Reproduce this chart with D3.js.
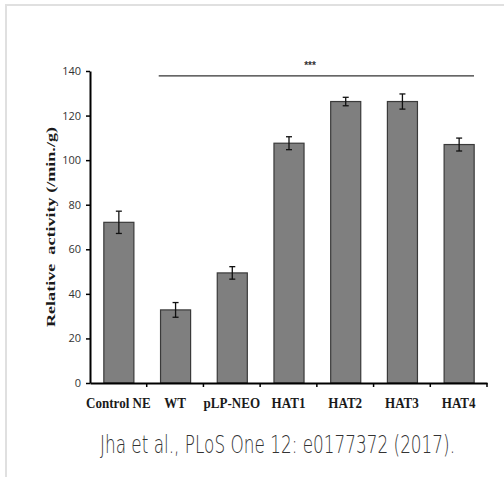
<!DOCTYPE html>
<html>
<head>
<meta charset="utf-8">
<script src="https://cdn.jsdelivr.net/npm/d3@7"></script>
<style>
  html, body { margin: 0; padding: 0; background: #fff; }
  svg { display: block; }
</style>
</head>
<body>
<div id="chart"></div>
<script>
// values
const categories = ["Control NE", "WT", "pLP-NEO", "HAT1", "HAT2", "HAT3", "HAT4"];
const activity = [72.1, 32.8, 49.4, 107.6, 126.3, 126.3, 107.0];
const errors = [5.0, 3.3, 2.8, 2.9, 1.9, 3.4, 2.9];
const yTicks = [0, 20, 40, 60, 80, 100, 120, 140];
const sigFrom = "WT", sigTo = "HAT4", sigLabel = "***";

const width = 504, height = 477;

const svg = d3.select("#chart").append("svg")
    .attr("width", width)
    .attr("height", height);

// light frame round the panel
svg.append("path")
    .attr("d", "M6,477 V5 H504")
    .attr("fill", "none")
    .attr("stroke", "#e0e0e0")
    .attr("stroke-width", 2);

const x = d3.scaleBand()
    .domain(categories)
    .range([90, 487]);

const y = d3.scaleLinear()
    .domain([0, 140])
    .range([383, 71]);

const rows = categories.map((c, i) => ({name: c, value: activity[i], err: errors[i]}));
const barW = x.bandwidth() * 0.53;

// bars
svg.append("g")
  .selectAll("rect")
  .data(rows)
  .join("rect")
    .attr("x", d => x(d.name) + x.bandwidth() / 2 - barW / 2 + 0.5)
    .attr("y", d => y(d.value))
    .attr("width", barW)
    .attr("height", d => y(0) - y(d.value))
    .attr("fill", "#7f7f7f")
    .attr("stroke", "#3a3a3a")
    .attr("stroke-width", 1.2);

// error bars
const eb = svg.append("g")
    .attr("stroke", "#111")
    .attr("stroke-width", 1.3)
  .selectAll("g")
  .data(rows)
  .join("g")
    .attr("transform", d => `translate(${x(d.name) + x.bandwidth() / 2 + 0.5},0)`);

eb.append("line")
    .attr("y1", d => y(d.value + d.err))
    .attr("y2", d => y(d.value - d.err));
eb.append("line")
    .attr("x1", -3).attr("x2", 3)
    .attr("y1", d => y(d.value + d.err))
    .attr("y2", d => y(d.value + d.err));
eb.append("line")
    .attr("x1", -3).attr("x2", 3)
    .attr("y1", d => y(d.value - d.err))
    .attr("y2", d => y(d.value - d.err));

// y axis
const yAxis = svg.append("g")
    .attr("transform", "translate(90,0)")
    .call(d3.axisLeft(y).tickValues(yTicks).tickSize(4).tickPadding(5).tickSizeOuter(0));
yAxis.select(".domain").attr("stroke", "#000").attr("stroke-width", 2);
yAxis.selectAll(".tick line").attr("stroke", "#000").attr("stroke-width", 1.5);
yAxis.selectAll(".tick text")
    .attr("font-family", "'Open Sans', 'Noto Sans', sans-serif")
    .attr("font-size", 11)
    .attr("fill", "#333");

// x axis: labels centred in bands, tick marks on band edges
const xAxis = svg.append("g")
    .attr("transform", `translate(0,${y(0)})`)
    .call(d3.axisBottom(x).tickSize(0).tickPadding(14).tickSizeOuter(0));
xAxis.select(".domain").attr("stroke", "#000").attr("stroke-width", 2);
xAxis.selectAll(".tick text")
    .attr("font-family", "'Liberation Serif', 'Times New Roman', serif")
    .attr("font-weight", "bold")
    .attr("font-size", 15)
    .attr("transform", "scale(0.87,1)")
    .attr("fill", "#1a1a1a");

const edges = categories.slice(1).map(c => x(c)).concat([x.range()[1]]);
xAxis.append("g")
  .selectAll("line")
  .data(edges)
  .join("line")
    .attr("x1", d => d).attr("x2", d => d)
    .attr("y1", 0).attr("y2", 4)
    .attr("stroke", "#000")
    .attr("stroke-width", 1.5);

// y label
svg.append("text")
    .attr("transform", `translate(55,${(y(0) + y(140)) / 2}) rotate(-90)`)
    .attr("text-anchor", "middle")
    .attr("font-family", "'Liberation Serif', 'Times New Roman', serif")
    .attr("font-weight", "bold")
    .attr("font-size", 12.5)
    .attr("fill", "#1a1a1a")
    .attr("textLength", 200)
    .attr("lengthAdjust", "spacingAndGlyphs")
    .style("white-space", "pre")
    .text("Relative  activity (/min./g)");

// significance bracket
const sx1 = x(sigFrom) + 12, sx2 = x(sigTo) + x.bandwidth() - 13;
svg.append("line")
    .attr("x1", sx1).attr("x2", sx2)
    .attr("y1", y(137.8)).attr("y2", y(137.8))
    .attr("stroke", "#333")
    .attr("stroke-width", 1.2);
svg.append("text")
    .attr("x", 310)
    .attr("y", y(140.8))
    .attr("text-anchor", "middle")
    .attr("font-family", "'Liberation Sans', sans-serif")
    .attr("font-weight", "bold")
    .attr("font-size", 10)
    .attr("fill", "#333")
    .text(sigLabel);

// citation (tall, thin lettering as in the source image)
svg.append("text")
    .attr("transform", "translate(277.5,453) scale(1,1.45)")
    .attr("text-anchor", "middle")
    .attr("font-family", "'DejaVu Sans', sans-serif")
    .attr("font-weight", 200)
    .attr("font-size", 17)
    .attr("fill", "#333")
    .attr("textLength", 355)
    .attr("lengthAdjust", "spacingAndGlyphs")
    .text("Jha et al., PLoS One 12: e0177372 (2017).");
</script>
</body>
</html>
